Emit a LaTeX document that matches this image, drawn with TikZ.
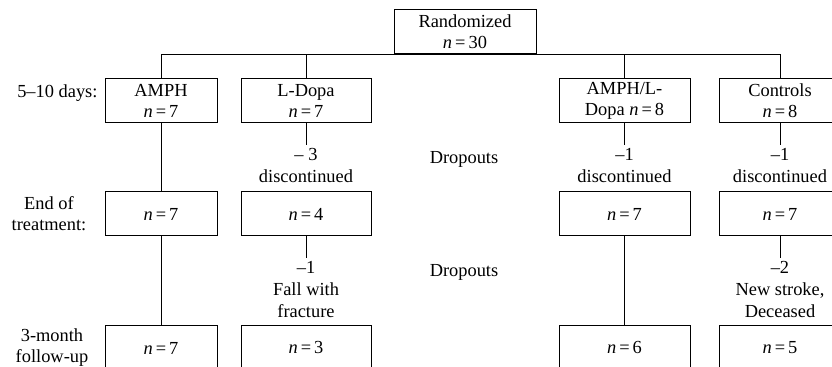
\documentclass[tikz,border=0pt]{standalone}
\usepackage{fontspec}
\setmainfont{Liberation Serif}
\usepackage{tikz}

\newcommand{\ncount}[1]{\textit{n}\,=\,#1}

\begin{document}
\begin{tikzpicture}[x=0.5pt,y=-0.5pt,line width=0.5pt,
    font=\fontsize{9.2}{10.5}\selectfont,
    box/.style={draw,align=center,inner sep=0pt,minimum height=22pt},
    outlabel/.style={align=center,inner sep=1.5pt,font=\fontsize{9.2}{11}\selectfont},
    sidelabel/.style={align=center,inner sep=0pt}]
          \clip (0,0) rectangle (832,367);

          \node[box,minimum width=71pt] (rand) at (465,32) {Randomized\\\ncount{30}};

          \node[box,minimum width=56pt] (amph1) at (161,100.5) {AMPH\\\ncount{7}};
          \node[box,minimum width=65pt] (ldopa1) at (306,100.5) {L-Dopa\\\ncount{7}};
          \node[box,minimum width=65.5pt] (combo1) at (624.5,100.5) {AMPH/L-\\Dopa \ncount{8}};
          \node[box,minimum width=61pt] (ctrl1) at (780,100.5) {Controls\\\ncount{8}};

          \node[box,minimum width=56pt] (amph2) at (161,214) {\ncount{7}};
          \node[box,minimum width=65pt] (ldopa2) at (306,214) {\ncount{4}};
          \node[box,minimum width=65.5pt] (combo2) at (624.5,214) {\ncount{7}};
          \node[box,minimum width=61pt] (ctrl2) at (780,214) {\ncount{7}};

          \node[box,minimum width=56pt] (amph3) at (161,348) {\ncount{7}};
          \node[box,minimum width=65pt] (ldopa3) at (306,348) {\ncount{3}};
          \node[box,minimum width=65.5pt] (combo3) at (624.5,348) {\ncount{6}};
          \node[box,minimum width=61pt] (ctrl3) at (780,348) {\ncount{5}};

          % dropouts
          \node[outlabel] (ldopaOut1) at (306,166) {-- 3\\discontinued};
          \node[outlabel] (comboOut1) at (624.5,166) {--1\\discontinued};
          \node[outlabel] (ctrlOut1) at (780,166) {--1\\discontinued};
          \node[outlabel] (ldopaOut2) at (306,290) {--1\\Fall with\\fracture};
          \node[outlabel] (ctrlOut2) at (780,290) {--2\\New stroke,\\Deceased};

          \node[sidelabel,anchor=east] (days) at (98,93) {5--10 days:};
          \node[sidelabel] (endtreat) at (49,214) {End of\\treatment:};
          \node[sidelabel] (followup) at (52,348) {3-month\\follow-up};
          \node[sidelabel] (dropA) at (464,159) {Dropouts};
          \node[sidelabel] (dropB) at (464,272) {Dropouts};

          \draw (amph1.north) |- (ctrl1.north |- rand.south) -- (ctrl1.north);
          \draw (ldopa1.north) -- (ldopa1.north |- rand.south);
          \draw (combo1.north) -- (combo1.north |- rand.south);

          \draw (amph1) -- (amph2);
          \draw (amph2) -- (amph3);
          \draw (ldopa1) -- (ldopaOut1);
          \draw (ldopa2) -- (ldopaOut2);
          \draw (combo1) -- (comboOut1);
          \draw (combo2) -- (combo3);
          \draw (ctrl1) -- (ctrlOut1);
          \draw (ctrl2) -- (ctrlOut2);
        \end{tikzpicture}
\end{document}
